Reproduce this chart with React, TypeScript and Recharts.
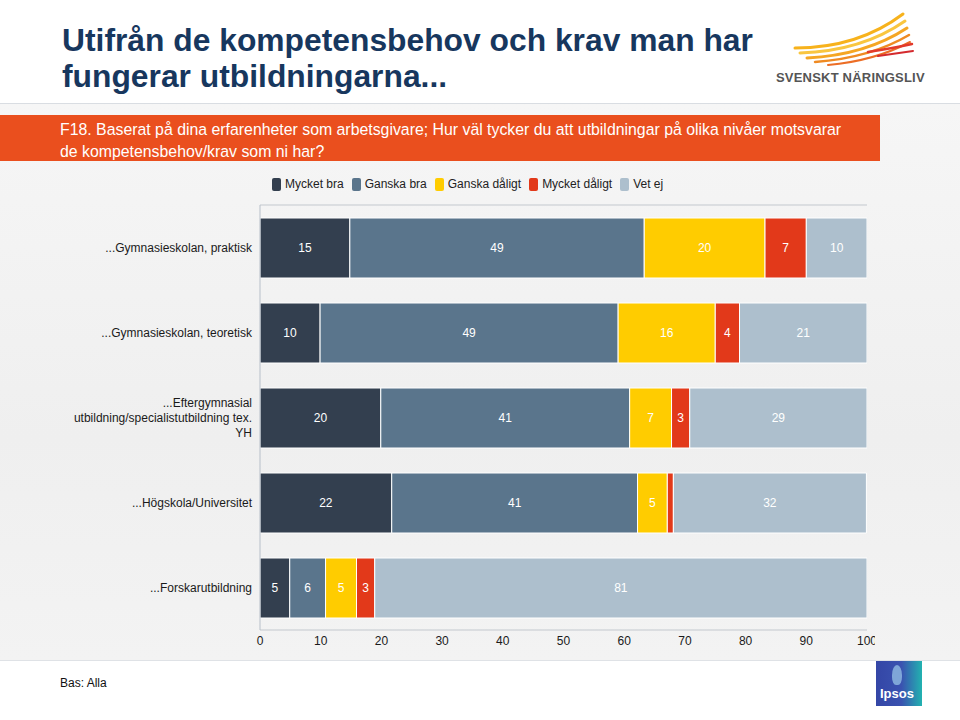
import { BarChart, Bar, XAxis, YAxis, CartesianGrid, Legend, LabelList } from "recharts";

const categories = [
  "...Gymnasieskolan, praktisk",
  "...Gymnasieskolan, teoretisk",
  "...Eftergymnasial\nutbildning/specialistutbildning tex.\nYH",
  "...Högskola/Universitet",
  "...Forskarutbildning",
];

const mycketBra = [14.8, 9.9, 19.9, 21.7, 4.9];
const ganskaBra = [48.5, 49.1, 41.0, 40.5, 5.9];
const ganskaDaligt = [19.9, 16.0, 6.9, 4.9, 5.1];
const mycketDaligt = [6.8, 4.0, 3.0, 1.0, 3.0];
const vetEj = [10.0, 21.0, 29.2, 31.8, 81.1];

const xTicks = [0, 10, 20, 30, 40, 50, 60, 70, 80, 90, 100];

const series = [
  { key: "mycketBra", name: "Mycket bra", color: "#333f4f" },
  { key: "ganskaBra", name: "Ganska bra", color: "#5a758c" },
  { key: "ganskaDaligt", name: "Ganska dåligt", color: "#ffcc00" },
  { key: "mycketDaligt", name: "Mycket dåligt", color: "#e2391a" },
  { key: "vetEj", name: "Vet ej", color: "#adbfcd" },
];

const data = categories.map((name, i) => ({
  name,
  mycketBra: mycketBra[i],
  ganskaBra: ganskaBra[i],
  ganskaDaligt: ganskaDaligt[i],
  mycketDaligt: mycketDaligt[i],
  vetEj: vetEj[i],
}));

const font = '"Liberation Sans", Arial, sans-serif';

function CategoryTick({ x, y, payload }: any) {
  const lines = String(payload.value).split("\n");
  const lh = 15;
  const start = -((lines.length - 1) * lh) / 2 + 4;
  return (
    <text x={x} y={y} textAnchor="end" fill="#1a1a1a" fontSize={12} fontFamily={font}>
      {lines.map((l, i) => (
        <tspan key={i} x={x} dy={i === 0 ? start : lh}>
          {l}
        </tspan>
      ))}
    </text>
  );
}

function LegendContent() {
  return (
    <div style={{ display: "flex", alignItems: "center", fontFamily: font, fontSize: 12, color: "#222" }}>
      {series.map((s) => (
        <div key={s.key} style={{ display: "flex", alignItems: "center", marginRight: 8 }}>
          <span
            style={{
              display: "inline-block",
              width: 9,
              height: 13,
              borderRadius: 2,
              background: s.color,
              marginRight: 4,
            }}
          />
          {s.name}
        </div>
      ))}
    </div>
  );
}

function Wing() {
  const strokes = [
    { d: "M795 48 Q858 48 903 14", c: "#f7b21c", w: 3 },
    { d: "M800 53 Q862 51 905 21", c: "#f9c640", w: 3 },
    { d: "M807 58 Q866 55 907 28", c: "#f5a623", w: 3 },
    { d: "M815 62 Q870 58 909 35", c: "#ef8a22", w: 2.5 },
    { d: "M828 65 Q874 61 910 42", c: "#ec6d25", w: 2 },
    { d: "M868 52 Q894 48 912 44", c: "#e23a2c", w: 2.5 },
    { d: "M878 56 Q899 53 913 51", c: "#d42a2e", w: 2 },
  ];
  return (
    <svg width={960} height={100} style={{ position: "absolute", left: 0, top: 0 }}>
      {strokes.map((s, i) => (
        <path key={i} d={s.d} stroke={s.c} strokeWidth={s.w} fill="none" strokeLinecap="round" />
      ))}
    </svg>
  );
}

export default function App() {
  return (
    <div
      style={{
        position: "absolute",
        left: 0,
        top: 0,
        width: 960,
        height: 720,
        background: "#fff",
        overflow: "hidden",
        fontFamily: font,
      }}
    >
      <div
        style={{
          position: "absolute",
          left: 0,
          top: 103,
          width: 960,
          height: 556,
          background: "linear-gradient(180deg, #f6f6f6 0%, #efefef 60%, #f3f3f3 100%)",
          borderTop: "1px solid #d9dde2",
          borderBottom: "1px solid #dfe2e6",
        }}
      />
      <div
        style={{
          position: "absolute",
          left: 62,
          top: 22,
          fontSize: 31.8,
          fontWeight: "bold",
          lineHeight: "36px",
          color: "#17375e",
          whiteSpace: "nowrap",
        }}
      >
        Utifrån de kompetensbehov och krav man har
        <br />
        fungerar utbildningarna...
      </div>
      <Wing />
      <div
        style={{
          position: "absolute",
          left: 776,
          top: 70,
          fontSize: 13,
          fontWeight: "bold",
          color: "#555",
          letterSpacing: 0.2,
        }}
      >
        SVENSKT NÄRINGSLIV
      </div>
      <div
        style={{
          position: "absolute",
          left: 0,
          top: 115,
          width: 880,
          height: 46,
          background: "#ea4f1e",
        }}
      />
      <div
        style={{
          position: "absolute",
          left: 60,
          top: 119,
          fontSize: 15.85,
          lineHeight: "22px",
          color: "#fff",
          whiteSpace: "nowrap",
        }}
      >
        F18. Baserat på dina erfarenheter som arbetsgivare; Hur väl tycker du att utbildningar på olika nivåer motsvarar
        <br />
        de kompetensbehov/krav som ni har?
      </div>

      <div style={{ position: "absolute", left: 0, top: 170 }}>
        <BarChart
          width={875}
          height={485}
          data={data}
          layout="vertical"
          margin={{ top: 35, right: 8, bottom: 0, left: 0 }}
        >
          <CartesianGrid yAxisId="grid" horizontal vertical={false} stroke="#c3c8ce" />
          <XAxis
            type="number"
            domain={[0, 100]}
            ticks={xTicks}
            allowDataOverflow
            axisLine={false}
            tickLine={false}
            tickSize={0}
            tickMargin={6}
            height={25}
            interval={0}
            tick={{ fill: "#1a1a1a", fontSize: 12, fontFamily: font }}
          />
          <YAxis
            yAxisId="cat"
            type="category"
            dataKey="name"
            width={260}
            axisLine={{ stroke: "#b7bfc9" }}
            tickLine={false}
            tickSize={0}
            tickMargin={8}
            interval={0}
            tick={<CategoryTick />}
          />
          <YAxis
            yAxisId="grid"
            type="number"
            orientation="right"
            domain={[0, 5]}
            ticks={[0, 1, 2, 3, 4]}
            width={0}
            tick={false}
            axisLine={false}
            tickLine={false}
          />
          <Legend
            layout="horizontal"
            verticalAlign="middle"
            align="center"
            wrapperStyle={{ top: 7, left: 272, width: "auto" }}
            content={<LegendContent />}
          />
          {series.map((s) => (
            <Bar
              key={s.key}
              dataKey={s.key}
              name={s.name}
              stackId="a"
              yAxisId="cat"
              fill={s.color}
              stroke="#ffffff"
              strokeWidth={1}
              barSize={60}
              isAnimationActive={false}
            >
              <LabelList
                dataKey={s.key}
                position="center"
                fill="#ffffff"
                fontSize={12}
                fontFamily={font}
                formatter={(v: any) => (Number(v) < 2 ? "" : Math.round(Number(v)))}
              />
            </Bar>
          ))}
        </BarChart>
      </div>

      <div style={{ position: "absolute", left: 60, top: 676, fontSize: 12, color: "#111" }}>Bas: Alla</div>
      <div
        style={{
          position: "absolute",
          left: 876,
          top: 661,
          width: 46,
          height: 45,
          background: "linear-gradient(90deg, #3446a6 0%, #3a52b0 55%, #22b2b0 100%)",
        }}
      >
        <div
          style={{
            position: "absolute",
            left: 16,
            top: 4,
            width: 10,
            height: 20,
            borderRadius: "50% 50% 40% 40%",
            background: "#7fa6d8",
          }}
        />
        <div
          style={{
            position: "absolute",
            left: 4,
            top: 25,
            fontSize: 13,
            fontWeight: "bold",
            color: "#fff",
          }}
        >
          Ipsos
        </div>
      </div>
    </div>
  );
}
